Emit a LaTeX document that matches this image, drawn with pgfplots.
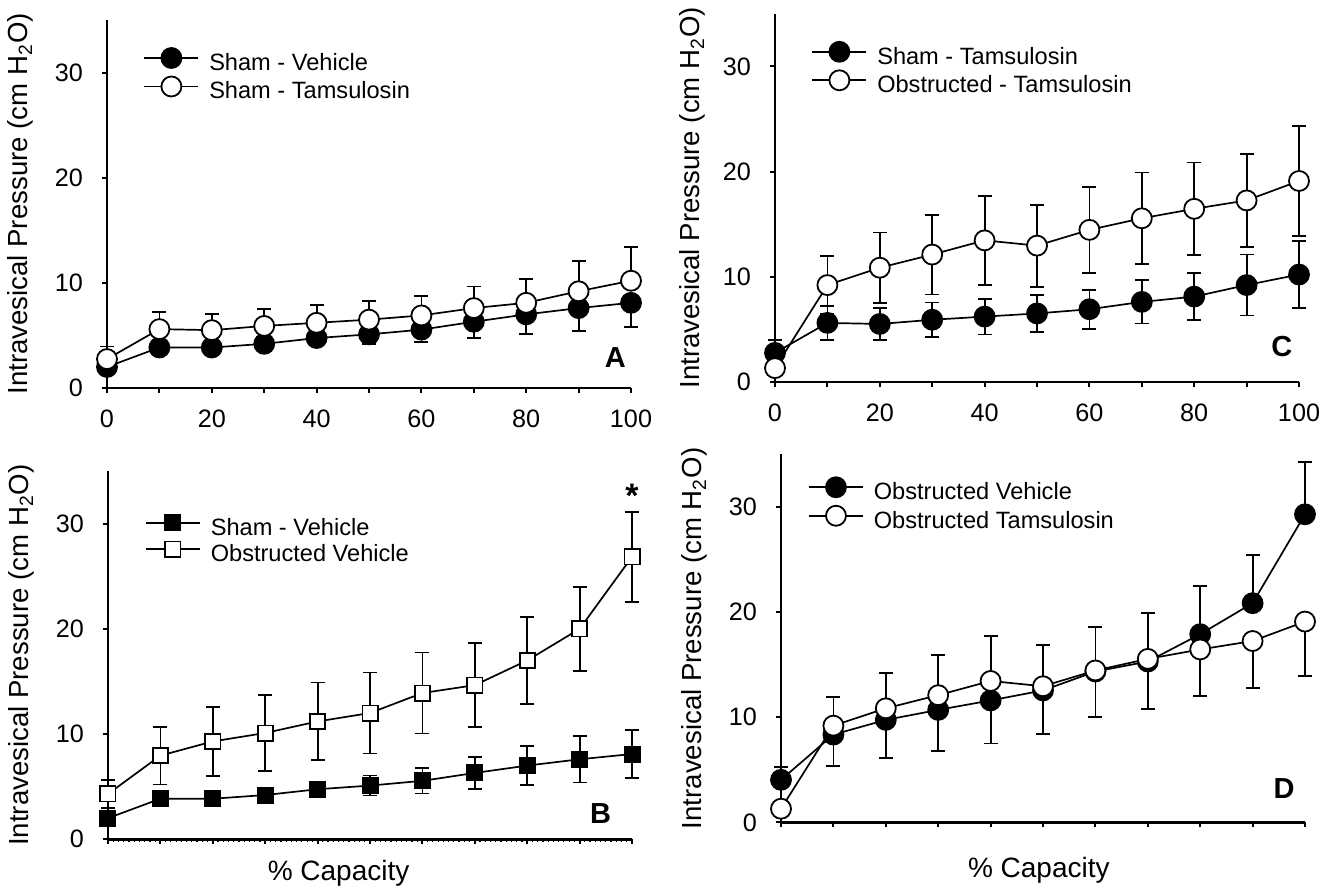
\documentclass[border=0pt]{standalone}
\usepackage{fontspec}
\setmainfont{Liberation Sans}
\usepackage{pgfplots}
\usepackage{pgfplotstable}
\pgfplotsset{compat=1.18}

% x = % capacity, y = mean pressure (cm H2O), e = error
\pgfplotstableread{
x y e
0 2.0 0.3
10 3.85 0.4
20 3.85 0.4
30 4.2 0.5
40 4.75 0.5
50 5.1 0.95
60 5.55 1.2
70 6.3 1.55
80 7.0 1.85
90 7.6 2.2
100 8.1 2.3
}\shamveh
\pgfplotstableread{
x y e
0 2.75 1.2
10 5.6 1.6
20 5.5 1.5
30 5.9 1.65
40 6.2 1.7
50 6.5 1.75
60 6.9 1.85
70 7.6 2.05
80 8.1 2.25
90 9.2 2.9
100 10.2 3.2
}\shamtam
% dp/dm: the parts of the bars that show in panel D
\pgfplotstableread{
x y e dp dm
0 1.3 0.5 0 0.5
10 9.2 2.75 2.75 0
20 10.85 3.35 3.35 0
30 12.1 3.8 3.8 0
40 13.45 4.25 4.25 0
50 12.95 3.9 3.9 0
60 14.45 4.1 4.1 0
70 15.55 4.35 4.35 0
80 16.45 4.4 0 4.4
90 17.25 4.45 0 4.45
100 19.1 5.2 0 5.2
}\obstam
\pgfplotstableread{
x y e
0 4.3 1.3
10 7.95 2.75
20 9.3 3.3
30 10.1 3.6
40 11.2 3.7
50 12.0 3.85
60 13.9 3.85
70 14.65 4.0
80 17.0 4.15
90 20.0 4.0
100 26.85 4.3
}\obsvehB
\pgfplotstableread{
x y dp dm
0 4.05 1.25 0
10 8.35 0 2.95
20 9.75 0 3.65
30 10.7 0 3.9
40 11.6 0 4.1
50 12.55 0 4.15
60 14.35 0 4.35
70 15.3 0 4.5
80 17.9 4.6 0
90 20.85 4.55 0
100 29.3 5.0 0
}\obsvehD

\tikzset{letter/.style={font=\bfseries\fontsize{14.5}{16}\selectfont}}

\pgfplotsset{
  panel/.style={
    scale only axis, width=262pt, height=184pt,
    xmin=0, xmax=100, ymin=0, ymax=35,
    axis x line*=bottom, axis y line*=left,
    axis line style={-, line width=1.4pt},
    xtick={0,10,...,100}, ytick={0,10,20,30},
    tick align=outside, major tick length=2.5pt,
    tick style={line width=1pt, black},
    yticklabel shift=6pt, xticklabel shift=5pt,
    tick label style={font=\fontsize{12.6}{14}\selectfont},
    /pgf/number format/assume math mode=true,
    ylabel={Intravesical Pressure (cm H\textsubscript{2}O)},
    ylabel style={font=\fontsize{13.8}{16}\selectfont,
      at={(axis description cs:-0.165,0.5)}, anchor=center},
    xlabel style={font=\fontsize{14}{16}\selectfont, anchor=center},
    clip=false,
    legend cell align=left,
    legend style={draw=none, fill=none, inner sep=0pt,
      font=\fontsize{11.8}{13}\selectfont, row sep=-1pt,
      nodes={inner sep=0pt, text height=9.5pt, text depth=4pt},
      /tikz/every odd column/.append style={column sep=5pt}},
    legend image code/.code={
      \draw[#1, mark repeat=2, mark phase=2]
        plot coordinates {(0pt,3.5pt) (13.5pt,3.5pt) (27pt,3.5pt)};},
  },
  errb/.style={error bars/y dir=both, error bars/y explicit,
    error bars/error bar style={line width=0.9pt, black, solid},
    error bars/error mark options={rotate=90, line width=0.9pt, mark size=3.5pt, black}},
  fcirc/.style={black, line width=0.85pt, mark=*, mark size=5pt,
    mark options={solid, fill=black, line width=0.9pt}, errb},
  ocirc/.style={black, line width=0.85pt, mark=*, mark size=5pt,
    mark options={solid, fill=white, line width=0.9pt}, errb},
  fsq/.style={black, line width=0.85pt, mark=square*, mark size=3.8pt,
    mark options={solid, fill=black, line width=0.9pt}, errb},
  osq/.style={black, line width=0.85pt, mark=square*, mark size=3.8pt,
    mark options={solid, fill=white, line width=0.9pt}, errb},
}

\begin{document}
\begin{tikzpicture}
\useasboundingbox (0,0) rectangle (669pt,446.5pt);

% A
\begin{axis}[panel, at={(53.5pt,252.5pt)}, anchor=south west,
  xticklabels={0,,20,,40,,60,,80,,100},
  legend style={at={(axis description cs:0.069,0.925)}, anchor=north west}]
  \addplot[fcirc, error bars/y dir=minus] table[x=x, y=y, y error=e] {\shamveh};
  \addlegendentry{Sham - Vehicle}
  \addplot[ocirc, error bars/y dir=plus] table[x=x, y=y, y error=e] {\shamtam};
  \addlegendentry{Sham - Tamsulosin}
  \node[letter] at (axis cs:97,2.9) {A};
\end{axis}

% C
\begin{axis}[panel, at={(387.5pt,255.6pt)}, anchor=south west,
  axis line style={-, line width=1pt},
  xticklabels={0,,20,,40,,60,,80,,100},
  ylabel style={at={(axis description cs:-0.157,0.5)}},
  legend style={at={(axis description cs:0.069,0.925)}, anchor=north west}]
  \addplot[fcirc] table[x=x, y=y, y error=e] {\shamtam};
  \addlegendentry{Sham - Tamsulosin}
  \addplot[ocirc] table[x=x, y=y, y error=e] {\obstam};
  \addlegendentry{Obstructed - Tamsulosin}
  \node[letter] at (axis cs:96.7,3.4) {C};
\end{axis}

% B
\begin{axis}[panel, at={(54pt,26.9pt)}, anchor=south west,
  xticklabels={}, minor x tick num=9, minor tick length=1.5pt,
  minor x tick style={line width=0.6pt},
  xlabel={\% Capacity},
  xlabel style={at={(axis description cs:0.44,0)}, yshift=-17pt},
  legend style={at={(axis description cs:0.070,0.881)}, anchor=north west}]
  \addplot[fsq] table[x=x, y=y, y error=e] {\shamveh};
  \addlegendentry{Sham - Vehicle}
  \addplot[osq] table[x=x, y=y, y error=e] {\obsvehB};
  \addlegendentry{Obstructed Vehicle}
  \node[letter] at (axis cs:94,2.4) {B};
  \node[font=\bfseries\fontsize{17}{18}\selectfont] at (axis cs:100,32.7) {*};
\end{axis}

% D
\begin{axis}[panel, at={(390.5pt,35.3pt)}, anchor=south west,
  xticklabels={},
  xlabel={\% Capacity},
  ylabel style={at={(axis description cs:-0.165,0.5)}},
  xlabel style={at={(axis description cs:0.492,0)}, yshift=-24pt},
  legend style={at={(axis description cs:0.051,0.939)}, anchor=north west}]
  \addplot[fcirc] table[x=x, y=y, y error plus=dp, y error minus=dm] {\obsvehD};
  \addlegendentry{Obstructed Vehicle}
  \addplot[ocirc] table[x=x, y=y, y error plus=dp, y error minus=dm] {\obstam};
  \addlegendentry{Obstructed Tamsulosin}
  \node[letter] at (axis cs:96,3.2) {D};
\end{axis}
\end{tikzpicture}
\end{document}
